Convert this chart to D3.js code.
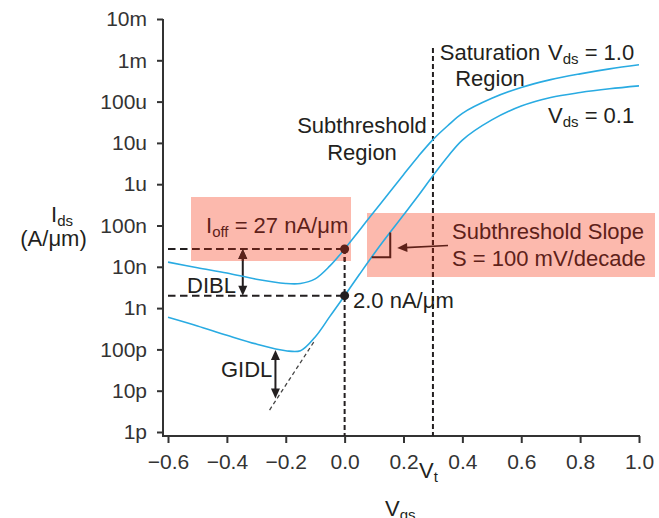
<!DOCTYPE html>
<html>
<head>
<meta charset="utf-8">
<script src="https://cdn.jsdelivr.net/npm/d3@7"></script>
<style>
  html, body { margin: 0; padding: 0; background: #fff; }
  svg { display: block; }
</style>
</head>
<body>
<svg id="chart" width="659" height="518"></svg>
<script>
// Gate voltage samples (V)
const vgs = [-0.6, -0.5, -0.4, -0.3, -0.2, -0.15, -0.1, -0.05, 0, 0.05, 0.1, 0.15, 0.2, 0.25, 0.3, 0.35, 0.4, 0.5, 0.6, 0.7, 0.8, 0.9, 1.0];
// Drain current (A/µm) at Vds = 1.0 V
const idsVds10 = [13e-9, 9.5e-9, 7.1e-9, 5.0e-9, 3.95e-9, 3.95e-9, 5.1e-9, 10.5e-9, 27e-9, 76e-9, 215e-9, 600e-9, 1.7e-6, 4.7e-6, 12e-6, 26e-6, 52e-6, 120e-6, 220e-6, 340e-6, 470e-6, 620e-6, 780e-6];
// Drain current (A/µm) at Vds = 0.1 V
const idsVds01 = [0.60e-9, 0.37e-9, 0.22e-9, 135e-12, 93e-12, 93e-12, 200e-12, 0.63e-9, 2.0e-9, 6.5e-9, 20.7e-9, 62e-9, 180e-9, 525e-9, 1.6e-6, 4.6e-6, 11.7e-6, 36e-6, 78e-6, 126e-6, 166e-6, 204e-6, 240e-6];

// Axis ticks
const xTickValues = [-0.6, -0.4, -0.2, 0.0, 0.2, 0.4, 0.6, 0.8, 1.0];
const xTickLabels = ["\u22120.6", "\u22120.4", "\u22120.2", "0.0", "0.2", "0.4", "0.6", "0.8", "1.0"];
const yTickValues = [1e-2, 1e-3, 1e-4, 1e-5, 1e-6, 1e-7, 1e-8, 1e-9, 1e-10, 1e-11, 1e-12];
const yTickLabels = ["10m", "1m", "100u", "10u", "1u", "100n", "10n", "1n", "100p", "10p", "1p"];

// Key operating points
const vt = 0.3;
const ioff = 27e-9;      // Vds = 1.0 at Vgs = 0
const ioffLin = 2.0e-9;  // Vds = 0.1 at Vgs = 0
const diblV = -0.346;
const gidlV = -0.235;
const gidlI = [97e-12, 6.5e-12];
// Subthreshold extrapolation of the Vds = 0.1 curve
const extrapV = [-0.255, -0.10];
const extrapI = [3.4e-12, 1.7e-10];
// Slope triangle on the Vds = 0.1 curve
const triV = [0.092, 0.155];
const triI = [17e-9, 68e-9];

const FONT = "'Liberation Sans', Arial, Helvetica, sans-serif";
const INK = "#231f20";
const BROWN = "#5e2119";
const BLUE = "#29abe2";
const PINK = "#fcb9ad";

const svg = d3.select("#chart");
svg.append("rect").attr("width", 659).attr("height", 518).attr("fill", "#fff");

const x = d3.scaleLinear().domain([-0.6, 1.0]).range([168, 639]);
const y = d3.scaleLog().domain([1e-12, 1e-2]).range([432, 19]);
const axisX0 = 163, axisY0 = 436;

// Highlight boxes
const boxes = [
  { x0: 191, y0: 197, x1: 351, y1: 261 },
  { x0: 367, y0: 213, x1: 655, y1: 277 }
];
svg.selectAll("rect.box").data(boxes).join("rect")
  .attr("class", "box")
  .attr("x", d => d.x0).attr("y", d => d.y0)
  .attr("width", d => d.x1 - d.x0).attr("height", d => d.y1 - d.y0)
  .attr("fill", PINK);

const defs = svg.append("defs");
const clip = defs.append("clipPath").attr("id", "boxclip");
boxes.forEach(b => clip.append("rect").attr("x", b.x0).attr("y", b.y0).attr("width", b.x1 - b.x0).attr("height", b.y1 - b.y0));

// Axes
const yAxis = d3.axisLeft(y).tickValues(yTickValues)
  .tickFormat(d => yTickLabels[yTickValues.indexOf(d)])
  .tickSize(6).tickPadding(10);
const gy = svg.append("g").attr("transform", `translate(${axisX0},0)`).call(yAxis);
const xAxis = d3.axisBottom(x).tickValues(xTickValues)
  .tickFormat(d => xTickLabels[xTickValues.indexOf(d)])
  .tickSize(7).tickPadding(11);
const gx = svg.append("g").attr("transform", `translate(0,${axisY0})`).call(xAxis);
[gx, gy].forEach(g => {
  g.select(".domain").remove();
  g.selectAll(".tick line").attr("stroke", "#333").attr("stroke-width", 2);
  g.selectAll(".tick text").attr("fill", "#333").attr("font-size", 21).attr("font-family", FONT);
});
svg.append("line").attr("x1", axisX0).attr("x2", axisX0).attr("y1", y(1e-2)).attr("y2", axisY0 + 1)
  .attr("stroke", "#333").attr("stroke-width", 2);
svg.append("line").attr("x1", axisX0 - 1).attr("x2", x(1.0) + 1).attr("y1", axisY0).attr("y2", axisY0)
  .attr("stroke", "#333").attr("stroke-width", 2);

// Reference lines, arrows and markers (drawn once in ink, once in brown inside the boxes)
function arrowHead(g, tx, ty, ux, uy, color) {
  const len = 10, half = 4.5;
  const bx = tx - ux * len, by = ty - uy * len;
  const px = -uy, py = ux;
  g.append("path")
    .attr("d", `M${tx},${ty}L${bx + px * half},${by + py * half}L${bx - px * half},${by - py * half}Z`)
    .attr("fill", color);
}
function drawInk(g, color) {
  const dashH = "7.5,4.5", dashV = "5,3";
  g.append("line").attr("x1", x(-0.6)).attr("x2", x(0)).attr("y1", y(ioff)).attr("y2", y(ioff))
    .attr("stroke", color).attr("stroke-width", 2).attr("stroke-dasharray", dashH);
  g.append("line").attr("x1", x(-0.6)).attr("x2", x(0)).attr("y1", y(ioffLin)).attr("y2", y(ioffLin))
    .attr("stroke", color).attr("stroke-width", 2).attr("stroke-dasharray", dashH);
  g.append("line").attr("x1", x(0)).attr("x2", x(0)).attr("y1", y(ioff)).attr("y2", axisY0)
    .attr("stroke", color).attr("stroke-width", 2).attr("stroke-dasharray", dashV);
  g.append("line").attr("x1", x(vt)).attr("x2", x(vt)).attr("y1", 48).attr("y2", axisY0)
    .attr("stroke", color).attr("stroke-width", 2).attr("stroke-dasharray", dashV);
  // DIBL double arrow
  const dx = x(diblV);
  g.append("line").attr("x1", dx).attr("x2", dx).attr("y1", y(ioff) + 8).attr("y2", y(ioffLin) - 8)
    .attr("stroke", color).attr("stroke-width", 2);
  arrowHead(g, dx, y(ioff), 0, -1, color);
  arrowHead(g, dx, y(ioffLin), 0, 1, color);
  // GIDL double arrow
  const gxp = x(gidlV);
  g.append("line").attr("x1", gxp).attr("x2", gxp).attr("y1", y(gidlI[0]) + 8).attr("y2", y(gidlI[1]) - 8)
    .attr("stroke", color).attr("stroke-width", 2);
  arrowHead(g, gxp, y(gidlI[0]), 0, -1, color);
  arrowHead(g, gxp, y(gidlI[1]), 0, 1, color);
}
drawInk(svg.append("g"), INK);
drawInk(svg.append("g").attr("clip-path", "url(#boxclip)"), BROWN);

// Subthreshold extrapolation
svg.append("line")
  .attr("x1", x(extrapV[0])).attr("y1", y(extrapI[0]))
  .attr("x2", x(extrapV[1])).attr("y2", y(extrapI[1]))
  .attr("stroke", "#444").attr("stroke-width", 1.3).attr("stroke-dasharray", "4,3");

// Id–Vg curves
const line = d3.line().curve(d3.curveCatmullRom.alpha(0.5)).x(d => x(d[0])).y(d => y(d[1]));
[idsVds10, idsVds01].forEach(series => {
  svg.append("path")
    .datum(vgs.map((v, i) => [v, series[i]]))
    .attr("d", line)
    .attr("fill", "none").attr("stroke", BLUE).attr("stroke-width", 1.6);
});

// Slope triangle
svg.append("path")
  .attr("d", `M${x(triV[0])},${y(triI[0])}H${x(triV[1])}V${y(triI[1])}`)
  .attr("fill", "none").attr("stroke", BROWN).attr("stroke-width", 2);
// Pointer to the triangle
(function () {
  const tail = [448, 245.5], tip = [x(triV[1]) + 7, 248];
  const len = Math.hypot(tip[0] - tail[0], tip[1] - tail[1]);
  const ux = (tip[0] - tail[0]) / len, uy = (tip[1] - tail[1]) / len;
  svg.append("line").attr("x1", tail[0]).attr("y1", tail[1])
    .attr("x2", tip[0] - ux * 8).attr("y2", tip[1] - uy * 8)
    .attr("stroke", BROWN).attr("stroke-width", 1.6);
  arrowHead(svg, tip[0], tip[1], ux, uy, BROWN);
})();

// Operating-point dots
svg.append("circle").attr("cx", x(0)).attr("cy", y(ioff)).attr("r", 4.5).attr("fill", BROWN);
svg.append("circle").attr("cx", x(0)).attr("cy", y(ioffLin)).attr("r", 4.5).attr("fill", INK);

// Text helpers
function label(xp, yb, parts, opts = {}) {
  const t = svg.append("text")
    .attr("x", xp).attr("y", yb)
    .attr("font-family", FONT).attr("font-size", opts.size || 22)
    .attr("fill", opts.fill || INK)
    .attr("text-anchor", opts.anchor || "start");
  let shifted = false;
  parts.forEach(p => {
    const isSub = Array.isArray(p);
    const s = t.append("tspan").text(isSub ? p[0] : p);
    if (isSub) { s.attr("font-size", 15).attr("dy", 4); shifted = true; }
    else if (shifted) { s.attr("dy", -4); shifted = false; }
  });
  return t;
}

label(362, 133, ["Subthreshold"], { anchor: "middle" });
label(362, 160, ["Region"], { anchor: "middle" });
label(490, 60, ["Saturation"], { anchor: "middle" });
label(490, 86, ["Region"], { anchor: "middle" });
label(548, 60, ["V", ["ds"], " = 1.0"]);
label(548, 123, ["V", ["ds"], " = 0.1"]);
label(206, 233, ["I", ["off"], " = 27 nA/\u03bcm"], { fill: BROWN });
label(452, 239, ["Subthreshold Slope"], { fill: BROWN });
label(452, 266, ["S = 100 mV/decade"], { fill: BROWN });
label(353, 308, ["2.0 nA/\u03bcm"]);
label(187, 293, ["DIBL"]);
label(221, 377, ["GIDL"]);
label(51, 222, ["I", ["ds"]]);
label(53.5, 246, ["(A/\u03bcm)"], { anchor: "middle" });
label(419, 478, ["V", ["t"]]);
label(385, 516, ["V", ["gs"]]);
</script>
</body>
</html>
